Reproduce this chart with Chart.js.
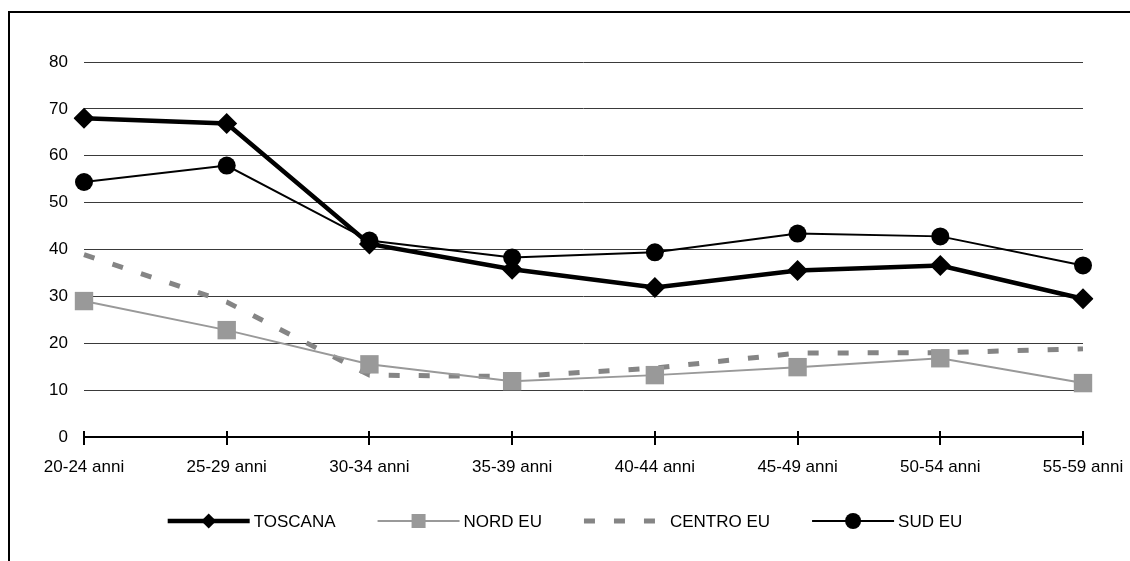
<!DOCTYPE html>
<html>
<head>
<meta charset="utf-8">
<script src="https://cdn.jsdelivr.net/npm/chart.js@4.4.1/dist/chart.umd.min.js"></script>
<style>
  html, body { margin: 0; padding: 0; background: #fff; }
  #wrap { width: 1130px; height: 561px; position: relative; }
</style>
</head>
<body>
<div id="wrap"><canvas id="c" width="1130" height="561"></canvas></div>
<script>
// Age groups on the x axis
const categories = ['20-24 anni', '25-29 anni', '30-34 anni', '35-39 anni',
                    '40-44 anni', '45-49 anni', '50-54 anni', '55-59 anni'];

// Series values (percent)
const toscana  = [68.0, 66.9, 41.2, 35.8, 31.9, 35.5, 36.6, 29.5];
const nordEu   = [29.0, 22.8, 15.5, 11.9, 13.2, 14.9, 16.8, 11.5];
const centroEu = [38.9, 28.8, 13.2, 12.9, 14.7, 17.9, 18.0, 18.8];
const sudEu    = [54.4, 57.9, 41.9, 38.3, 39.4, 43.4, 42.8, 36.6];

const seriesNames = ['TOSCANA', 'NORD EU', 'CENTRO EU', 'SUD EU'];

// Value axis range
const yMin = 0;
const yMax = 80;
const yStep = 10;

const FONT_FAMILY = '"Liberation Sans", Arial, sans-serif';
const FONT_SIZE = 17;

// Outer frame of the chart object
const framePlugin = {
  id: 'frame',
  beforeDraw(chart) {
    const ctx = chart.ctx;
    ctx.save();
    ctx.fillStyle = '#fff';
    ctx.fillRect(0, 0, chart.width, chart.height);
    ctx.strokeStyle = '#000';
    ctx.lineWidth = 2;
    ctx.beginPath();
    ctx.moveTo(9, chart.height + 2);
    ctx.lineTo(9, 12);
    ctx.lineTo(chart.width + 2, 12);
    ctx.stroke();
    ctx.restore();
  }
};

// Category tick marks that cross the axis line (upper half)
const crossTicksPlugin = {
  id: 'crossTicks',
  afterDraw(chart) {
    const x = chart.scales.x;
    const bottom = chart.chartArea.bottom;
    const ctx = chart.ctx;
    ctx.save();
    ctx.strokeStyle = '#000';
    ctx.lineWidth = 2;
    for (let i = 0; i < x.ticks.length; i++) {
      const px = Math.round(x.getPixelForTick(i));
      ctx.beginPath();
      ctx.moveTo(px, bottom - 6);
      ctx.lineTo(px, bottom);
      ctx.stroke();
    }
    ctx.restore();
  }
};

function drawMarker(ctx, style, x, y, r, color) {
  ctx.fillStyle = color;
  ctx.beginPath();
  if (style === 'rectRot') {
    ctx.moveTo(x - r, y);
    ctx.lineTo(x, y - r);
    ctx.lineTo(x + r, y);
    ctx.lineTo(x, y + r);
    ctx.closePath();
  } else if (style === 'rect') {
    ctx.rect(x - r, y - r, 2 * r, 2 * r);
  } else if (style === 'circle') {
    ctx.arc(x, y, r, 0, Math.PI * 2);
  }
  ctx.fill();
}

// Legend below the plot: line sample with marker, then the series name
const legendPlugin = {
  id: 'lineLegend',
  afterDraw(chart) {
    const ctx = chart.ctx;
    const sample = 82, gap = 4, spacing = 42, cy = 521;
    const legendSizes = { rectRot: 7.5, rect: 7, circle: 8 };
    ctx.save();
    ctx.font = FONT_SIZE + 'px ' + FONT_FAMILY;
    const ds = chart.data.datasets;
    const widths = ds.map(d => ctx.measureText(d.label).width);
    const total = widths.reduce((a, w) => a + sample + gap + w, 0) + spacing * (ds.length - 1);
    let x = chart.width / 2 - total / 2;
    ds.forEach((d, i) => {
      ctx.strokeStyle = d.borderColor;
      ctx.lineWidth = d.borderWidth;
      ctx.setLineDash(d.borderDash || []);
      ctx.lineCap = 'butt';
      ctx.beginPath();
      ctx.moveTo(x, cy);
      ctx.lineTo(x + sample, cy);
      ctx.stroke();
      ctx.setLineDash([]);
      if (d.pointRadius > 0) {
        drawMarker(ctx, d.pointStyle, x + sample / 2, cy, legendSizes[d.pointStyle], d.pointBackgroundColor);
      }
      ctx.fillStyle = '#000';
      ctx.textBaseline = 'middle';
      ctx.textAlign = 'left';
      ctx.fillText(d.label, x + sample + gap, cy + 1);
      x += sample + gap + widths[i] + spacing;
    });
    ctx.restore();
  }
};

const chart = new Chart(document.getElementById('c'), {
  type: 'line',
  data: {
    labels: categories,
    datasets: [
      {
        label: seriesNames[0],
        data: toscana,
        borderColor: '#000',
        borderWidth: 4.5,
        pointStyle: 'rectRot',
        pointRadius: 10.5,
        pointBackgroundColor: '#000',
        pointBorderColor: '#000',
        pointBorderWidth: 0,
        tension: 0,
        order: 1
      },
      {
        label: seriesNames[1],
        data: nordEu,
        borderColor: '#999999',
        borderWidth: 2,
        pointStyle: 'rect',
        pointRadius: 13,
        pointBackgroundColor: '#999999',
        pointBorderColor: '#999999',
        pointBorderWidth: 0,
        tension: 0,
        order: 2
      },
      {
        label: seriesNames[2],
        data: centroEu,
        borderColor: '#858585',
        borderWidth: 5,
        borderDash: [11, 19],
        borderCapStyle: 'butt',
        pointRadius: 0,
        pointStyle: 'circle',
        tension: 0,
        order: 3
      },
      {
        label: seriesNames[3],
        data: sudEu,
        borderColor: '#000',
        borderWidth: 2,
        pointStyle: 'circle',
        pointRadius: 9,
        pointBackgroundColor: '#000',
        pointBorderColor: '#000',
        pointBorderWidth: 0,
        tension: 0,
        order: 0
      }
    ]
  },
  options: {
    responsive: false,
    devicePixelRatio: 1,
    animation: false,
    layout: { padding: { left: 10, right: 47, top: 62, bottom: 84 } },
    plugins: {
      legend: { display: false },
      tooltip: { enabled: false }
    },
    font: { family: FONT_FAMILY, size: FONT_SIZE },
    scales: {
      x: {
        offset: false,
        grid: {
          display: true,
          drawOnChartArea: false,
          drawTicks: true,
          tickLength: 8,
          color: '#000',
          lineWidth: 2
        },
        border: { display: true, color: '#000', width: 2 },
        ticks: {
          color: '#000',
          padding: 12,
          maxRotation: 0,
          autoSkip: false,
          font: { family: FONT_FAMILY, size: FONT_SIZE }
        },
        afterFit(scale) {
          scale.height = 40;
          scale.paddingLeft = 0;
          scale.paddingRight = 0;
        }
      },
      y: {
        min: yMin,
        max: yMax,
        grid: { color: '#3a3a3a', lineWidth: 1, drawTicks: false },
        border: { display: false },
        ticks: {
          stepSize: yStep,
          color: '#000',
          padding: 16,
          font: { family: FONT_FAMILY, size: FONT_SIZE }
        },
        afterFit(scale) {
          scale.width = 74;
          scale.paddingTop = 0;
          scale.paddingBottom = 0;
        }
      }
    }
  },
  plugins: [framePlugin, crossTicksPlugin, legendPlugin]
});
</script>
</body>
</html>
